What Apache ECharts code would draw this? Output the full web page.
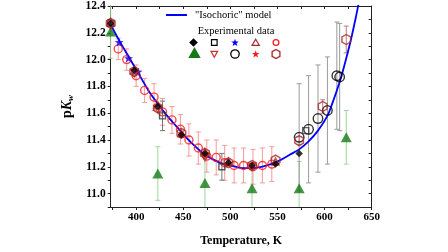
<!DOCTYPE html>
<html><head><meta charset="utf-8">
<script src="https://cdn.jsdelivr.net/npm/echarts@6/dist/echarts.min.js"></script>
<style>html,body{margin:0;padding:0;background:#fff}#c{width:448px;height:252px}</style>
</head><body><div id="c"></div>
<script>
// ---- data ----
const modelT  = [373,383,393,403,413,423,433,443,453,463,473,483,493,503,513,523,533,543,553,563,573,583,593,603,608,613,618,623,628,633,637];
const modelPK = [12.26,12.13,12.01,11.89,11.77,11.67,11.58,11.50,11.42,11.35,11.29,11.25,11.22,11.205,11.19,11.19,11.20,11.22,11.25,11.29,11.33,11.39,11.47,11.58,11.67,11.77,11.88,12.01,12.15,12.31,12.45];

const circT  = [381,390,400,409,419,428,438,447,456,466,475,485,494,504,514,524,534,544];
const circPK = [12.08,12.00,11.88,11.77,11.72,11.61,11.55,11.48,11.40,11.34,11.28,11.27,11.23,11.21,11.21,11.20,11.21,11.22];
const circE  = [0.08,0.08,0.08,0.09,0.10,0.10,0.10,0.11,0.12,0.12,0.12,0.13,0.13,0.13,0.13,0.13,0.13,0.13];

const bcircT  = [573,583,593,603,613,616];
const bcircPK = [11.42,11.48,11.56,11.62,11.88,11.87];
const bcircE  = [0.40,0.40,0.40,0.40,0.40,0.40];

const sqT  = [373,428,491,580];
const sqPK = [12.27,11.58,11.20,11.47];
const sqE  = [0,0.11,0.10,0];

const bstarT  = [382,392,402];
const bstarPK = [12.13,12.01,11.91];

const greenT  = [373,423,473,523,573,623];
const greenPK = [12.21,11.15,11.08,11.04,11.04,11.42];
const greenE  = [0.20,0.20,0.19,0.20,0.20,0.20];

const hexT  = [373,398,423,448,473,498,523,548,573,598,623];
const hexPK = [12.27,11.91,11.64,11.45,11.30,11.23,11.21,11.25,11.395,11.65,12.15];
const hexE  = [0,0,0,0,0,0,0,0,0.03,0.05,0.10];

const utriT  = [373,398,423,448,473,498,548];
const utriPK = [12.28,11.92,11.66,11.45,11.31,11.24,11.24];

const dtriT  = [373,398,423,473,523];
const dtriPK = [12.26,11.90,11.63,11.27,11.20];

const rstarT  = [448,473,498,523];
const rstarPK = [11.44,11.29,11.22,11.20];

const diaT  = [373,398,423,448,473,498,523,548,573];
const diaPK = [12.27,11.92,11.65,11.44,11.30,11.23,11.21,11.22,11.30];

const xTicks  = [375,400,425,450,475,500,525,550,575,600,625,650];
const xLabels = [400,450,500,550,600,650];

// ---- helpers ----
function starPts(cx,cy,R){const p=[];for(let k=0;k<10;k++){const a=-Math.PI/2+k*Math.PI/5;const r=k%2?R*0.4:R;p.push([cx+r*Math.cos(a),cy+r*Math.sin(a)]);}return p;}
function hexPts(cx,cy,R){const p=[];for(let k=0;k<6;k++){const a=-Math.PI/2+k*Math.PI/3;p.push([cx+R*Math.cos(a),cy+R*Math.sin(a)]);}return p;}
function toPath(p){return 'path://M'+p.map(q=>q[0].toFixed(2)+' '+q[1].toFixed(2)).join(' L')+' Z';}
const STAR = toPath(starPts(50,50,50));
const HEX = toPath(hexPts(50,50,50));
const pair = (T,V)=>T.map((t,i)=>[t,V[i]]);
const FONT = 'Liberation Serif';

function errSeries(T,V,E,color,cap){
  return {type:'custom', z:1, silent:true, data:T.map((t,i)=>[t,V[i],E[i]]),
    renderItem(params, api){
      const x=api.value(0), y=api.value(1), e=api.value(2);
      if(!e) return null;
      const cs=params.coordSys;
      const t=api.coord([x,y+e]), b=api.coord([x,y-e]);
      let y1=t[1], y2=b[1];
      const ch=[];
      const topC = y1>=cs.y, botC = y2<=cs.y+cs.height;
      y1=Math.max(y1,cs.y); y2=Math.min(y2,cs.y+cs.height);
      ch.push({type:'line',shape:{x1:t[0],y1:y1,x2:t[0],y2:y2},style:{stroke:color,lineWidth:1}});
      if(topC) ch.push({type:'line',shape:{x1:t[0]-cap,y1:y1,x2:t[0]+cap,y2:y1},style:{stroke:color,lineWidth:1}});
      if(botC) ch.push({type:'line',shape:{x1:t[0]-cap,y1:y2,x2:t[0]+cap,y2:y2},style:{stroke:color,lineWidth:1}});
      return {type:'group',children:ch};
    }};
}
function hollow(name,T,V,symbol,size,color,extra){
  return Object.assign({name,type:'scatter',z:3,data:pair(T,V),symbol,symbolSize:size,symbolKeepAspect:true,
    itemStyle:{color:'rgba(0,0,0,0)',borderColor:color,borderWidth:1.4}},extra||{});
}
function filled(name,T,V,symbol,size,color,extra){
  return Object.assign({name,type:'scatter',z:3,data:pair(T,V),symbol,symbolSize:size,symbolKeepAspect:true,
    itemStyle:{color:color}},extra||{});
}

const C = {
  blue:'#0000ff', red:'#ff1a1a', dred:'#a3262a', green:'#157a15', black:'#000',
  pink:'#f59a9a', grey:'#9a9a9a', lgreen:'#9fd69f', hexbar:'#c27a7a'
};

// ---- legend graphic ----
const G=[];
G.push({type:'line',shape:{x1:166,y1:15,x2:187,y2:15},style:{stroke:C.blue,lineWidth:2}});
G.push({type:'text',x:195,y:15,style:{text:'"Isochoric" model',font:'10.5px "Liberation Serif"',fill:'#000',verticalAlign:'middle'}});
G.push({type:'text',x:236,y:31,style:{text:'Experimental data',font:'10.5px "Liberation Serif"',fill:'#000',align:'center',verticalAlign:'middle'}});
const r1=42.5, r2=54;
G.push({type:'polygon',shape:{points:[[193.5,r1-4.3],[197.8,r1],[193.5,r1+4.3],[189.2,r1]]},style:{fill:'#000'}});
G.push({type:'rect',shape:{x:211.5,y:r1-2.8,width:5.6,height:5.6},style:{fill:'none',stroke:'#000',lineWidth:1.2}});
G.push({type:'polygon',shape:{points:starPts(235,r1+0.3,4)},style:{fill:C.blue}});
G.push({type:'polygon',shape:{points:[[255.7,r1-3.3],[259.3,r1+2.8],[252.1,r1+2.8]]},style:{fill:'none',stroke:C.dred,lineWidth:1.2}});
G.push({type:'circle',shape:{cx:276,cy:r1,r:2.9},style:{fill:'none',stroke:C.red,lineWidth:1.3}});
G.push({type:'polygon',shape:{points:[[194.5,r2-7],[200.7,r2+4],[188.3,r2+4]]},style:{fill:C.green}});
G.push({type:'polygon',shape:{points:[[214.3,r2+3.2],[217.6,r2-2.6],[211,r2-2.6]]},style:{fill:'none',stroke:'#c8322f',lineWidth:1.2}});
G.push({type:'circle',shape:{cx:235,cy:r2,r:4.2},style:{fill:'none',stroke:'#000',lineWidth:1.3}});
G.push({type:'polygon',shape:{points:starPts(255.7,r2+0.3,4)},style:{fill:C.red}});
G.push({type:'polygon',shape:{points:hexPts(276,r2,4.5)},style:{fill:'none',stroke:C.dred,lineWidth:1.3}});

const tickLbl = {fontFamily:FONT,fontWeight:'bold',color:'#000'};
const axLine = {lineStyle:{color:'#222',width:1}};

const option = {
  animation:false,
  backgroundColor:'#fff',
  grid:{left:110.7,right:76.3,top:5,bottom:37},
  xAxis:[
    {type:'value',min:373,max:650,position:'bottom',axisLine:axLine,splitLine:{show:false},
     axisTick:{inside:false,length:3,customValues:xTicks,lineStyle:{color:'#222'}},
     axisLabel:Object.assign({customValues:xLabels,fontSize:11,margin:5},tickLbl),
     name:'Temperature, K',nameLocation:'middle',nameGap:28,
     nameTextStyle:{fontFamily:FONT,fontWeight:'bold',fontSize:12,color:'#000'}},
    {type:'value',min:373,max:650,position:'top',axisLine:axLine,splitLine:{show:false},
     axisTick:{inside:true,length:3,customValues:xTicks,lineStyle:{color:'#222'}},
     axisLabel:{show:false}}
  ],
  yAxis:[
    {type:'value',min:10.9,max:12.4,interval:0.1,position:'left',axisLine:axLine,splitLine:{show:false},
     axisTick:{inside:false,length:3,lineStyle:{color:'#222'}},
     axisLabel:Object.assign({fontSize:11.5,margin:5,formatter:v=>Math.round(v*10)%2===0?v.toFixed(1):''},tickLbl),
     name:'p{k|K}{w|w}',nameLocation:'middle',nameGap:28,nameRotate:90,
     nameTextStyle:{fontFamily:FONT,fontWeight:'bold',fontSize:14,color:'#000',
       rich:{k:{fontFamily:FONT,fontWeight:'bold',fontStyle:'italic',fontSize:14,color:'#000'},
             w:{fontFamily:FONT,fontStyle:'italic',fontWeight:'bold',fontSize:9,color:'#000',verticalAlign:'bottom',padding:[5,0,0,0]}}}},
    {type:'value',min:10.9,max:12.4,interval:0.1,position:'right',axisLine:axLine,splitLine:{show:false},
     axisTick:{inside:true,length:3,lineStyle:{color:'#222'}},axisLabel:{show:false}}
  ],
  graphic:G,
  series:[
    errSeries(greenT,greenPK,greenE,C.lgreen,2.5),
    errSeries(circT,circPK,circE,C.pink,2.5),
    errSeries(bcircT,bcircPK,bcircE,C.grey,2.5),
    errSeries(sqT,sqPK,sqE,'#777',2.5),
    errSeries(hexT,hexPK,hexE,C.hexbar,2.5),
    {name:'model',type:'line',z:2,data:pair(modelT,modelPK),showSymbol:false,smooth:0.3,
     lineStyle:{color:C.blue,width:1.8},clip:true},
    filled('green',greenT,greenPK,'triangle',[11,10],C.green),
    hollow('circ',circT,circPK,'circle',8,C.red),
    hollow('bcirc',bcircT,bcircPK,'circle',9.5,'#000'),
    hollow('sq',sqT,sqPK,'rect',6,'#333'),
    filled('bstar',bstarT,bstarPK,STAR,9,C.blue),
    hollow('utri',utriT,utriPK,'triangle',7,C.dred),
    hollow('dtri',dtriT,dtriPK,'triangle',7,'#c8322f',{symbolRotate:180}),
    filled('rstar',rstarT,rstarPK,STAR,8,C.red),
    hollow('hex',hexT,hexPK,HEX,10,C.dred),
    filled('dia',diaT,diaPK,'diamond',7.5,'#000')
  ]
};
const chart = echarts.init(document.getElementById('c'),null,{renderer:'canvas'});
chart.setOption(option);
</script>
</body></html>
